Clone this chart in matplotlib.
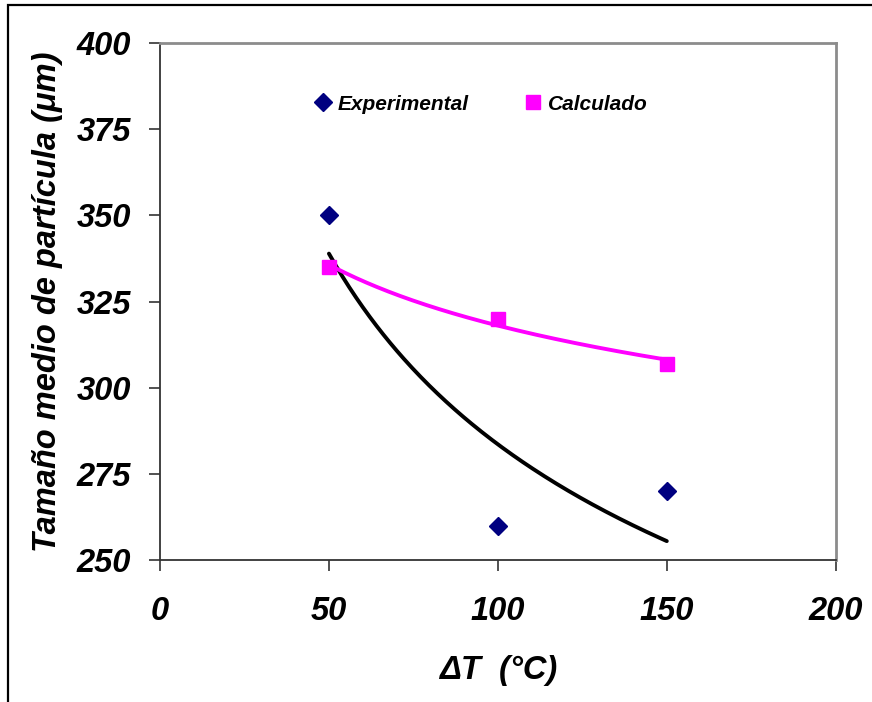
import numpy as np
import matplotlib.pyplot as plt
from matplotlib.patches import Rectangle

plt.rcParams['font.family'] = ['Liberation Sans', 'DejaVu Sans']

# Data
delta_t = [50, 100, 150]
experimental = [350, 260, 270]
calculado = [335, 320, 307]

x_ticks = [0, 50, 100, 150, 200]
y_ticks = [250, 275, 300, 325, 350, 375, 400]


def power_trend(x, y, n=200):
    # Excel-style power trendline: y = a * x^b
    b, ln_a = np.polyfit(np.log(x), np.log(y), 1)
    xs = np.linspace(min(x), max(x), n)
    return xs, np.exp(ln_a) * xs ** b


fig = plt.figure(figsize=(8.72, 7.02), dpi=100)
ax = fig.add_axes([0.1835, 0.2018, 0.7749, 0.7369])

# outer frame of the chart (only left/top visible in crop)
fig.patches.append(Rectangle((8 / 872, -0.1), 1.2, 1.1 - 5 / 702, transform=fig.transFigure,
                             fill=False, edgecolor="black", linewidth=1.6))

xe, ye = power_trend(delta_t, experimental)
xc, yc = power_trend(delta_t, calculado)
ax.plot(xe, ye, color="black", linewidth=2.8, solid_capstyle="round", zorder=2)
ax.plot(xc, yc, color="#ff00ff", linewidth=2.8, solid_capstyle="round", zorder=2)

ax.plot(delta_t, experimental, linestyle="none", marker="D", markersize=9,
        color="#000080", label="Experimental", zorder=3)
ax.plot(delta_t, calculado, linestyle="none", marker="s", markersize=10,
        color="#ff00ff", label="Calculado", zorder=3)

ax.set_xlim(0, 200)
ax.set_ylim(250, 400)
ax.set_xticks(x_ticks)
ax.set_yticks(y_ticks)

tick_font = dict(fontsize=23.5, fontweight="bold", fontstyle="italic")
ax.set_xticklabels([str(v) for v in x_ticks], **tick_font)
ax.set_yticklabels([str(v) for v in y_ticks], **tick_font)
ax.tick_params(axis="both", direction="out", length=8, width=1.2, color="#333333")
ax.tick_params(axis="x", pad=18)
ax.tick_params(axis="y", pad=13)

for side in ("left", "bottom"):
    ax.spines[side].set_color("#333333")
    ax.spines[side].set_linewidth(1.3)
for side in ("top", "right"):
    ax.spines[side].set_color("#8c8c8c")
    ax.spines[side].set_linewidth(2.0)

ax.set_ylabel("Tamaño medio de partícula (μm)", fontsize=23.5, fontweight="bold",
              fontstyle="italic", labelpad=10)
ax.set_xlabel("ΔT  (°C)", fontsize=23.5, fontweight="bold", fontstyle="italic",
              labelpad=20)

ax.legend(loc="center", bbox_to_anchor=(480 / 872, 1 - 104 / 702),
          bbox_transform=fig.transFigure, ncol=2, frameon=False,
          prop=dict(size=15, weight="bold", style="italic"),
          handletextpad=0.2, columnspacing=2.6, handlelength=1.0)

fig.savefig("out.png", dpi=100)
